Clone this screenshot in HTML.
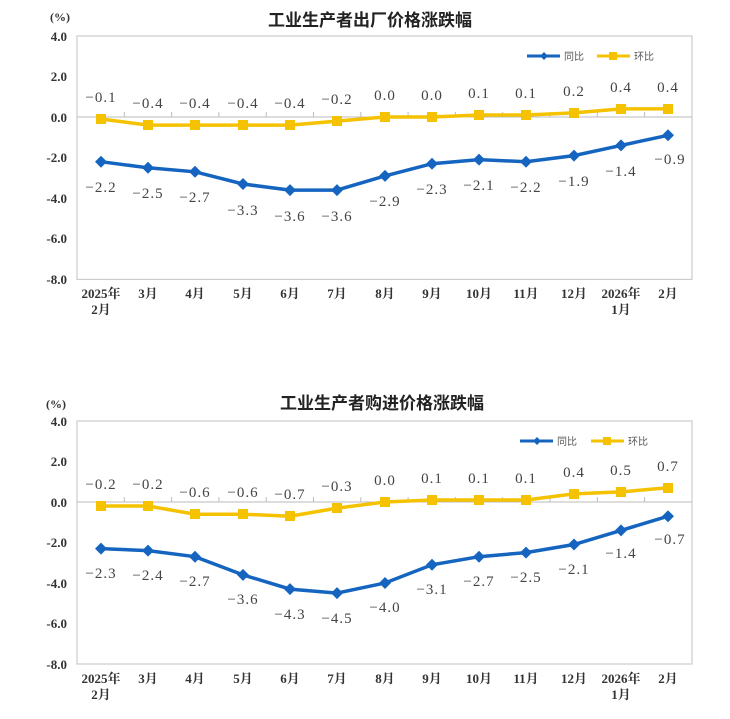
<!DOCTYPE html>
<html><head><meta charset="utf-8"><style>
html,body{margin:0;padding:0;background:#fff;}
svg{display:block;}
.t{font-family:"Liberation Sans","Noto Sans CJK SC",sans-serif;font-weight:bold;font-size:17px;fill:#222;}
.y{font-family:"Liberation Serif","Noto Serif CJK SC",serif;font-weight:bold;font-size:13px;fill:#333;text-anchor:end;}
.x{font-family:"Liberation Serif","Noto Serif CJK SC",serif;font-weight:bold;font-size:13px;fill:#333;text-anchor:middle;}
.l{font-family:"Liberation Serif","Noto Serif CJK SC",serif;font-size:15px;fill:#444;text-anchor:middle;letter-spacing:1px;}
.lg{font-family:"Liberation Sans","Noto Sans CJK SC",sans-serif;font-size:10px;fill:#555;}
</style></head><body>
<svg width="730" height="719" viewBox="0 0 730 719" xmlns="http://www.w3.org/2000/svg">
<text class="t" x="370" y="26" text-anchor="middle">工业生产者出厂价格涨跌幅</text>
<text class="y" x="70" y="21" style="font-size:12px">(%)</text>
<rect x="77" y="36" width="615" height="243.4" fill="none" stroke="#ccc" stroke-width="1.2"/>
<line x1="77" y1="117" x2="692" y2="117" stroke="#bbb" stroke-width="1"/>
<g stroke="#bbb" stroke-width="1">
<line x1="124.3" y1="117" x2="124.3" y2="112"/><line x1="171.6" y1="117" x2="171.6" y2="112"/><line x1="218.9" y1="117" x2="218.9" y2="112"/><line x1="266.2" y1="117" x2="266.2" y2="112"/><line x1="313.5" y1="117" x2="313.5" y2="112"/><line x1="360.8" y1="117" x2="360.8" y2="112"/><line x1="408.1" y1="117" x2="408.1" y2="112"/><line x1="455.4" y1="117" x2="455.4" y2="112"/><line x1="502.7" y1="117" x2="502.7" y2="112"/><line x1="550" y1="117" x2="550" y2="112"/><line x1="597.3" y1="117" x2="597.3" y2="112"/><line x1="644.6" y1="117" x2="644.6" y2="112"/>
</g>
<text class="y" x="67" y="41">4.0</text><text class="y" x="67" y="81">2.0</text><text class="y" x="67" y="122">0.0</text><text class="y" x="67" y="162">-2.0</text><text class="y" x="67" y="203">-4.0</text><text class="y" x="67" y="243">-6.0</text><text class="y" x="67" y="284">-8.0</text>
<text class="x" x="101" y="298">2025年</text><text class="x" x="101" y="314">2月</text>
<text class="x" x="148" y="298">3月</text><text class="x" x="195" y="298">4月</text><text class="x" x="243" y="298">5月</text><text class="x" x="290" y="298">6月</text><text class="x" x="337" y="298">7月</text><text class="x" x="385" y="298">8月</text><text class="x" x="432" y="298">9月</text><text class="x" x="479" y="298">10月</text><text class="x" x="526" y="298">11月</text><text class="x" x="574" y="298">12月</text>
<text class="x" x="621" y="298">2026年</text><text class="x" x="621" y="314">1月</text><text class="x" x="668" y="298">2月</text>
<polyline fill="none" stroke="#f5c200" stroke-width="3.5" points="101,119 148,125.1 195,125.1 243,125.1 290,125.1 337,121.1 385,117 432,117 479,115 526,115 574,112.9 621,108.9 668,108.9"/>
<g fill="#f5c200">
<rect x="96" y="114" width="10" height="10"/><rect x="143" y="120" width="10" height="10"/><rect x="190" y="120" width="10" height="10"/><rect x="238" y="120" width="10" height="10"/><rect x="285" y="120" width="10" height="10"/><rect x="332" y="116" width="10" height="10"/><rect x="380" y="112" width="10" height="10"/><rect x="427" y="112" width="10" height="10"/><rect x="474" y="110" width="10" height="10"/><rect x="521" y="110" width="10" height="10"/><rect x="569" y="108" width="10" height="10"/><rect x="616" y="104" width="10" height="10"/><rect x="663" y="104" width="10" height="10"/>
</g>
<polyline fill="none" stroke="#1565c0" stroke-width="3.5" points="101,161.7 148,167.8 195,171.8 243,184 290,190.1 337,190.1 385,175.9 432,163.7 479,159.6 526,161.7 574,155.6 621,145.4 668,135.3"/>
<g fill="#1565c0">
<path d="M101,155.7l6,6-6,6-6-6z"/><path d="M148,161.8l6,6-6,6-6-6z"/><path d="M195,165.8l6,6-6,6-6-6z"/><path d="M243,178l6,6-6,6-6-6z"/><path d="M290,184.1l6,6-6,6-6-6z"/><path d="M337,184.1l6,6-6,6-6-6z"/><path d="M385,169.9l6,6-6,6-6-6z"/><path d="M432,157.7l6,6-6,6-6-6z"/><path d="M479,153.6l6,6-6,6-6-6z"/><path d="M526,155.7l6,6-6,6-6-6z"/><path d="M574,149.6l6,6-6,6-6-6z"/><path d="M621,139.4l6,6-6,6-6-6z"/><path d="M668,129.3l6,6-6,6-6-6z"/>
</g>
<text class="l" x="101" y="102">−0.1</text><text class="l" x="148" y="108">−0.4</text><text class="l" x="195" y="108">−0.4</text><text class="l" x="243" y="108">−0.4</text><text class="l" x="290" y="108">−0.4</text><text class="l" x="337" y="104">−0.2</text><text class="l" x="385" y="100">0.0</text><text class="l" x="432" y="100">0.0</text><text class="l" x="479" y="98">0.1</text><text class="l" x="526" y="98">0.1</text><text class="l" x="574" y="96">0.2</text><text class="l" x="621" y="92">0.4</text><text class="l" x="668" y="92">0.4</text>
<text class="l" x="101" y="192">−2.2</text><text class="l" x="148" y="198">−2.5</text><text class="l" x="195" y="202">−2.7</text><text class="l" x="243" y="215">−3.3</text><text class="l" x="290" y="221">−3.6</text><text class="l" x="337" y="221">−3.6</text><text class="l" x="385" y="206">−2.9</text><text class="l" x="432" y="194">−2.3</text><text class="l" x="479" y="190">−2.1</text><text class="l" x="526" y="192">−2.2</text><text class="l" x="574" y="186">−1.9</text><text class="l" x="621" y="176">−1.4</text><text class="l" x="670" y="164">−0.9</text>
<line x1="527" y1="56" x2="560" y2="56" stroke="#1565c0" stroke-width="3"/><path d="M544,52l4,4-4,4-4-4z" fill="#1565c0"/>
<text class="lg" x="564" y="60">同比</text>
<line x1="597" y1="56" x2="630" y2="56" stroke="#f5c200" stroke-width="3"/><rect x="609" y="52" width="8" height="8" fill="#f5c200"/>
<text class="lg" x="634" y="60">环比</text>

<text class="t" x="382" y="409" text-anchor="middle">工业生产者购进价格涨跌幅</text>
<text class="y" x="66" y="408" style="font-size:12px">(%)</text>
<rect x="77" y="421" width="615" height="243" fill="none" stroke="#ccc" stroke-width="1.2"/>
<line x1="77" y1="502" x2="692" y2="502" stroke="#bbb" stroke-width="1"/>
<g stroke="#bbb" stroke-width="1">
<line x1="124.3" y1="502" x2="124.3" y2="497"/><line x1="171.6" y1="502" x2="171.6" y2="497"/><line x1="218.9" y1="502" x2="218.9" y2="497"/><line x1="266.2" y1="502" x2="266.2" y2="497"/><line x1="313.5" y1="502" x2="313.5" y2="497"/><line x1="360.8" y1="502" x2="360.8" y2="497"/><line x1="408.1" y1="502" x2="408.1" y2="497"/><line x1="455.4" y1="502" x2="455.4" y2="497"/><line x1="502.7" y1="502" x2="502.7" y2="497"/><line x1="550" y1="502" x2="550" y2="497"/><line x1="597.3" y1="502" x2="597.3" y2="497"/><line x1="644.6" y1="502" x2="644.6" y2="497"/>
</g>
<text class="y" x="67" y="426">4.0</text><text class="y" x="67" y="466">2.0</text><text class="y" x="67" y="507">0.0</text><text class="y" x="67" y="547">-2.0</text><text class="y" x="67" y="588">-4.0</text><text class="y" x="67" y="628">-6.0</text><text class="y" x="67" y="669">-8.0</text>
<text class="x" x="101" y="683">2025年</text><text class="x" x="101" y="699">2月</text>
<text class="x" x="148" y="683">3月</text><text class="x" x="195" y="683">4月</text><text class="x" x="243" y="683">5月</text><text class="x" x="290" y="683">6月</text><text class="x" x="337" y="683">7月</text><text class="x" x="385" y="683">8月</text><text class="x" x="432" y="683">9月</text><text class="x" x="479" y="683">10月</text><text class="x" x="526" y="683">11月</text><text class="x" x="574" y="683">12月</text>
<text class="x" x="621" y="683">2026年</text><text class="x" x="621" y="699">1月</text><text class="x" x="668" y="683">2月</text>
<polyline fill="none" stroke="#f5c200" stroke-width="3.5" points="101,506 148,506 195,514.2 243,514.2 290,516.2 337,508.1 385,502 432,500 479,500 526,500 574,493.9 621,491.9 668,487.8"/>
<g fill="#f5c200">
<rect x="96" y="501" width="10" height="10"/><rect x="143" y="501" width="10" height="10"/><rect x="190" y="509" width="10" height="10"/><rect x="238" y="509" width="10" height="10"/><rect x="285" y="511" width="10" height="10"/><rect x="332" y="503" width="10" height="10"/><rect x="380" y="497" width="10" height="10"/><rect x="427" y="495" width="10" height="10"/><rect x="474" y="495" width="10" height="10"/><rect x="521" y="495" width="10" height="10"/><rect x="569" y="489" width="10" height="10"/><rect x="616" y="487" width="10" height="10"/><rect x="663" y="483" width="10" height="10"/>
</g>
<polyline fill="none" stroke="#1565c0" stroke-width="3.5" points="101,548.6 148,550.6 195,556.7 243,574.9 290,589.1 337,593.1 385,583 432,564.8 479,556.7 526,552.6 574,544.5 621,530.4 668,516.2"/>
<g fill="#1565c0">
<path d="M101,542.6l6,6-6,6-6-6z"/><path d="M148,544.6l6,6-6,6-6-6z"/><path d="M195,550.7l6,6-6,6-6-6z"/><path d="M243,568.9l6,6-6,6-6-6z"/><path d="M290,583.1l6,6-6,6-6-6z"/><path d="M337,587.1l6,6-6,6-6-6z"/><path d="M385,577l6,6-6,6-6-6z"/><path d="M432,558.8l6,6-6,6-6-6z"/><path d="M479,550.7l6,6-6,6-6-6z"/><path d="M526,546.6l6,6-6,6-6-6z"/><path d="M574,538.5l6,6-6,6-6-6z"/><path d="M621,524.4l6,6-6,6-6-6z"/><path d="M668,510.2l6,6-6,6-6-6z"/>
</g>
<text class="l" x="101" y="489">−0.2</text><text class="l" x="148" y="489">−0.2</text><text class="l" x="195" y="497">−0.6</text><text class="l" x="243" y="497">−0.6</text><text class="l" x="290" y="499">−0.7</text><text class="l" x="337" y="491">−0.3</text><text class="l" x="385" y="485">0.0</text><text class="l" x="432" y="483">0.1</text><text class="l" x="479" y="483">0.1</text><text class="l" x="526" y="483">0.1</text><text class="l" x="574" y="477">0.4</text><text class="l" x="621" y="475">0.5</text><text class="l" x="668" y="471">0.7</text>
<text class="l" x="101" y="578">−2.3</text><text class="l" x="148" y="580">−2.4</text><text class="l" x="195" y="586">−2.7</text><text class="l" x="243" y="604">−3.6</text><text class="l" x="290" y="619">−4.3</text><text class="l" x="337" y="623">−4.5</text><text class="l" x="385" y="612">−4.0</text><text class="l" x="432" y="594">−3.1</text><text class="l" x="479" y="586">−2.7</text><text class="l" x="526" y="582">−2.5</text><text class="l" x="574" y="574">−2.1</text><text class="l" x="621" y="558">−1.4</text><text class="l" x="670" y="544">−0.7</text>
<line x1="520" y1="441" x2="553" y2="441" stroke="#1565c0" stroke-width="3"/><path d="M537,437l4,4-4,4-4-4z" fill="#1565c0"/>
<text class="lg" x="557" y="445">同比</text>
<line x1="591" y1="441" x2="624" y2="441" stroke="#f5c200" stroke-width="3"/><rect x="603" y="437" width="8" height="8" fill="#f5c200"/>
<text class="lg" x="628" y="445">环比</text>
</svg>
</body></html>
